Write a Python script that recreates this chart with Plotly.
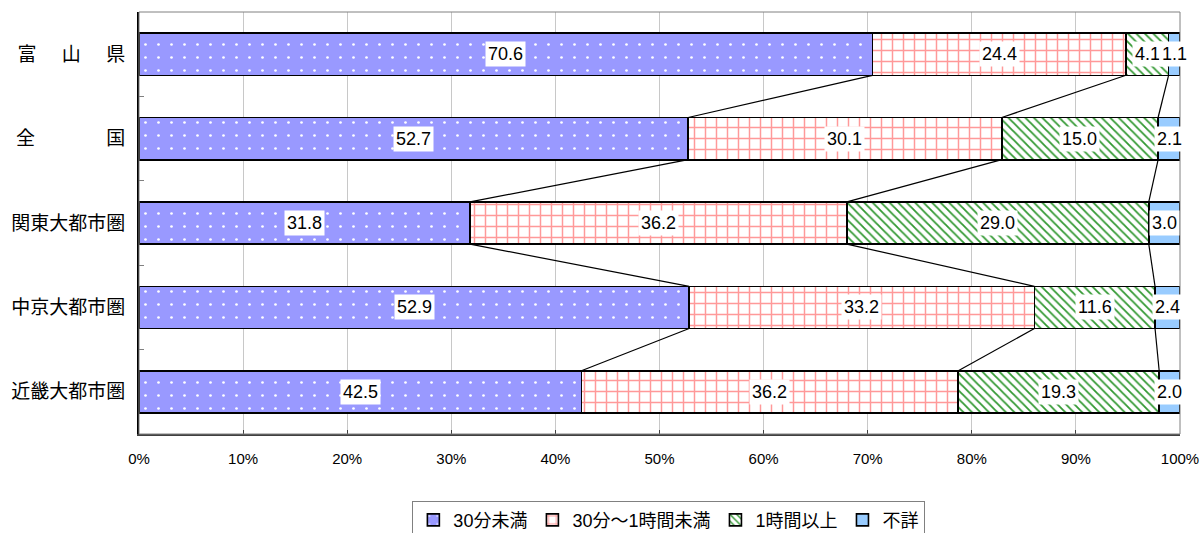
import plotly.graph_objects as go

# Commute time shares by region (%)
regions = [
    "富\u3000\u2004山\u3000\u2004県",
    "全\u3000\u3000\u3000\u2002\u2005国",
    "関東大都市圏", "中京大都市圏", "近畿大都市圏",
]
series_names = ["30分未満", "30分～1時間未満", "1時間以上", "不詳"]

under_30 = [70.6, 52.7, 31.8, 52.9, 42.5]
min30_to_1h = [24.4, 30.1, 36.2, 33.2, 36.2]
over_1h = [4.1, 15.0, 29.0, 11.6, 19.3]
unknown = [1.1, 2.1, 3.0, 2.4, 2.0]

series_values = [under_30, min30_to_1h, over_1h, unknown]

patterns = [
    dict(shape=".", bgcolor="#9999FF", fgcolor="#FFFFFF", size=13, solidity=0.035, fillmode="replace"),
    dict(shape="+", bgcolor="#FFFFFF", fgcolor="#FF9999", size=11, solidity=0.25, fillmode="replace"),
    dict(shape="\\", bgcolor="#FFFFFF", fgcolor="#339933", size=6, solidity=0.3, fillmode="replace"),
    dict(shape="", bgcolor="#99CCFF", fgcolor="#99CCFF", fillmode="replace"),
]
fills = ["#9999FF", "#FFFFFF", "#FFFFFF", "#99CCFF"]

ypos = list(range(len(regions)))
bar_width = 0.5

fig = go.Figure()
for name, vals, pat, fill in zip(series_names, series_values, patterns, fills):
    fig.add_trace(go.Bar(
        y=ypos, x=vals, name=name, orientation="h", width=bar_width,
        marker=dict(color=fill, pattern=pat, line=dict(color="#000000", width=1.6)),
        hoverinfo="skip",
    ))

# normalised cumulative positions (100% stacked)
totals = [sum(s[i] for s in series_values) for i in ypos]
cum = []
for i in ypos:
    row = [0.0]
    for s in series_values:
        row.append(row[-1] + s[i] / totals[i] * 100)
    cum.append(row)

# series lines joining the segment boundaries of neighbouring bars
lx, ly = [], []
for i in ypos[:-1]:
    for k in (1, 2, 3):
        lx += [cum[i][k], cum[i + 1][k], None]
        ly += [i + bar_width / 2, i + 1 - bar_width / 2, None]
fig.add_trace(go.Scatter(x=lx, y=ly, mode="lines", line=dict(color="#000000", width=1.2),
                         showlegend=False, hoverinfo="skip"))

# value labels on white boxes
for i in ypos:
    for k, s in enumerate(series_values):
        fig.add_annotation(
            x=(cum[i][k] + cum[i][k + 1]) / 2, y=i, text=f"{s[i]:.1f}",
            showarrow=False, bgcolor="#FFFFFF", borderpad=2,
            font=dict(family="Liberation Sans, Arial", size=18, color="#000000"),
        )

fig.update_layout(
    barmode="stack", barnorm="percent",
    width=1204, height=533,
    margin=dict(l=139, r=24, t=12, b=99, autoexpand=False),
    paper_bgcolor="#FFFFFF", plot_bgcolor="#FFFFFF",
    showlegend=True,
    legend=dict(
        orientation="h", x=0.509, xanchor="center", y=-0.158, yanchor="top",
        bordercolor="#808080", borderwidth=1, bgcolor="#FFFFFF",
        font=dict(family="Liberation Sans, Noto Sans CJK JP", size=18, color="#000000"),
        traceorder="normal",
    ),
    xaxis=dict(
        range=[0, 100], dtick=10, ticksuffix="%",
        showgrid=True, gridcolor="#C8C8C8", gridwidth=1,
        showline=True, linecolor="#404040", linewidth=2,
        ticks="inside", ticklen=4, tickcolor="#404040",
        tickfont=dict(family="Liberation Sans, Arial", size=15, color="#000000"),
        ticklabelstandoff=10, zeroline=False, fixedrange=True, automargin=False,
    ),
    yaxis=dict(
        range=[4.5, -0.5], tickvals=ypos, ticktext=regions,
        showgrid=False, zeroline=False, automargin=False,
        showline=True, linecolor="#000000", linewidth=2,
        ticks="", ticklabelstandoff=8,
        tickfont=dict(family="Noto Sans CJK JP", size=19, color="#000000"),
        minor=dict(tickvals=[0.5, 1.5, 2.5, 3.5], ticks="inside", ticklen=5, tickcolor="#808080"),
    ),
    shapes=[dict(type="rect", xref="paper", yref="paper", x0=0, x1=1, y0=0, y1=1,
                 line=dict(color="#808080", width=1), layer="above")],
)

fig.write_html("out.html")
